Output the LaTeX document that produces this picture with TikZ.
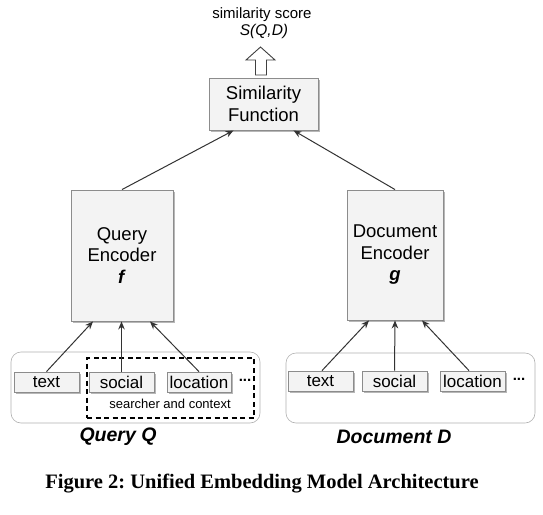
\documentclass[tikz,border=0pt]{standalone}
\usepackage{fontspec}
\setmainfont{Liberation Serif}
\newfontfamily\arial{Liberation Sans}
\usetikzlibrary{shadows,arrows.meta,calc}
\frenchspacing
\definecolor{boxfill}{HTML}{F3F3F3}
\definecolor{boxline}{HTML}{8C8C8C}
\definecolor{arrowcol}{HTML}{333333}
\tikzset{
  blockbox/.style={draw=boxline, fill=boxfill, line width=0.9pt, inner sep=0pt, align=center,
    font=\arial\fontsize{18.5}{21.5}\selectfont,
    drop shadow={shadow xshift=2pt, shadow yshift=-2pt, fill=black!35, opacity=0.8}},
  featbox/.style={draw=boxline, fill=boxfill, line width=0.8pt, inner sep=0pt,
    minimum width=65pt, minimum height=20pt, font=\arial\fontsize{17}{17}\selectfont,
    drop shadow={shadow xshift=1.5pt, shadow yshift=-1.5pt, fill=black!35, opacity=0.8}},
  container/.style={draw=black!30, line width=0.6pt, rounded corners=10pt, fill=white, inner sep=0pt},
  conn/.style={draw=arrowcol, line width=1pt, -{Stealth[length=8pt,width=6.5pt]}},
  plainlabel/.style={font=\arial, inner sep=0pt},
}
\begin{document}
\begin{tikzpicture}[x=1pt,y=-1pt]
\useasboundingbox[fill=white] (0,0) rectangle (543,514);

% top labels
\node[plainlabel, font=\arial\fontsize{15}{15}\selectfont] (score) at (262,15) {similarity score};
\node[plainlabel, font=\arial\itshape\fontsize{15.5}{15.5}\selectfont] (sqd) at (264,31) {S(Q,D)};

% hollow output arrow
\draw[draw=black!75, fill=white, line width=0.9pt, line join=miter]
  (255.5,75) -- (266.5,75) -- (266.5,60) -- (275,60) -- (260.5,47) -- (246,60) -- (255.5,60) -- cycle;

% similarity function
\node[blockbox, minimum width=109pt, minimum height=52pt] (simf) at (263.5,104) {Similarity\\Function};

% encoders
\node[blockbox, minimum width=102pt, minimum height=131pt] (qenc) at (122,255.5)
  {Query\\Encoder\\\textbf{\itshape f}};
\node[blockbox, minimum width=96pt, minimum height=130pt] (denc) at (395,255)
  {Document\\Encoder\\\textbf{\itshape g}};

% containers
\node[container, minimum width=249pt, minimum height=71pt] (qcont) at (135.5,387.5) {};
\node[container, minimum width=249pt, minimum height=70pt] (dcont) at (410.5,388) {};

% dashed searcher/context box
\node[draw=black, dashed, dash pattern=on 5pt off 3.5pt, line width=1.6pt, minimum width=167pt,
  minimum height=60pt, inner sep=0pt] (ctx) at (170.5,388) {};
\node[plainlabel, font=\arial\fontsize{13}{13}\selectfont] (ctxlabel) at (170,404) {searcher and context};

% features
\node[featbox] (qtext) at (46.5,382) {text};
\node[featbox] (qsocial) at (121.5,382) {social};
\node[featbox, minimum width=64pt] (qloc) at (199,382) {location};
\node[plainlabel, font=\arial\bfseries\fontsize{15}{15}\selectfont] (qdots) at (245,380) {...};

\node[featbox] (dtext) at (320.5,381) {text};
\node[featbox] (dsocial) at (394.5,381) {social};
\node[featbox] (dloc) at (472.5,381) {location};
\node[plainlabel, font=\arial\bfseries\fontsize{15}{15}\selectfont] (ddots) at (519,379) {...};

% container labels
\node[plainlabel, font=\arial\bfseries\itshape\fontsize{19.5}{19.5}\selectfont] (qlabel) at (118,437) {Query Q};
\node[plainlabel, font=\arial\bfseries\itshape\fontsize{19.5}{19.5}\selectfont] (dlabel) at (394,437) {Document D};

% connectors
\draw[conn] (qenc.north) -- ([xshift=-30pt]simf.south);
\draw[conn] (denc.north) -- ([xshift=30pt]simf.south);

\draw[conn] (qtext.north) -- ([xshift=-29pt]qenc.south);
\draw[conn] (qsocial.north) -- ([xshift=-0.5pt]qenc.south);
\draw[conn] (qloc.north) -- ([xshift=28pt]qenc.south);

\draw[conn] ([xshift=1.5pt]dtext.north) -- ([xshift=-26pt]denc.south);
\draw[conn] (dsocial.north) -- (denc.south);
\draw[conn] ([xshift=-3.5pt]dloc.north) -- ([xshift=27pt]denc.south);

% caption
\node[inner sep=0pt, font=\bfseries\fontsize{20.5}{20.5}\selectfont] (caption) at (262,484)
  {Figure 2: Unified Embedding Model Architecture};
\end{tikzpicture}
\end{document}
